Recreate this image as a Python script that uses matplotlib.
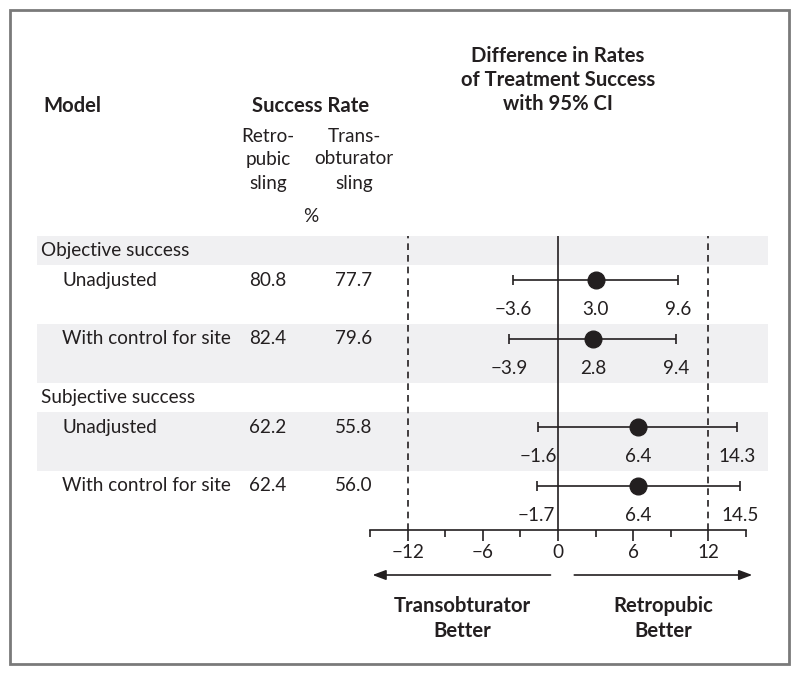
import matplotlib
matplotlib.use("Agg")
import matplotlib.pyplot as plt
from matplotlib.patches import Rectangle, FancyArrowPatch
from matplotlib.transforms import blended_transform_factory

plt.rcParams['font.family'] = ['Lato', 'DejaVu Sans']

# ---- data ----
groups = ["Objective success", "Subjective success"]
models = ["Unadjusted", "With control for site"]
retro = [80.8, 82.4, 62.2, 62.4]
trans = [77.7, 79.6, 55.8, 56.0]
diff = [3.0, 2.8, 6.4, 6.4]
ci_lo = [-3.6, -3.9, -1.6, -1.7]
ci_hi = [9.6, 9.4, 14.3, 14.5]
xticks = [-15, -12, -9, -6, -3, 0, 3, 6, 9, 12, 15]
xticklabels = ["", "\u221212", "", "\u22126", "", "0", "", "6", "", "12", ""]

TXT = 13.6
BOLD = 14.6
INK = "#231f20"

fig = plt.figure(figsize=(8, 6.75), dpi=100)
bg = fig.add_axes([0, 0, 1, 1])
bg.set_xlim(0, 800)
bg.set_ylim(675, 0)
bg.axis('off')

# forest axes: x in [-15,15], y in row units (0 top .. 10 bottom)
ax = fig.add_axes([370 / 800, (675 - 530) / 675, 376 / 800, 294 / 675])
ax.set_xlim(-15, 15)
ax.set_ylim(10, 0)
ax.patch.set_visible(False)
for s in ["top", "right", "left"]:
    ax.spines[s].set_visible(False)
ax.spines["bottom"].set_color(INK)
ax.spines["bottom"].set_linewidth(1.2)
ax.set_yticks([])
ax.set_xticks(xticks)
ax.set_xticklabels(xticklabels, fontsize=TXT, color=INK)
ax.tick_params(axis='x', direction='out', length=5, width=1.2, color=INK, pad=5)
for t, lab in zip(ax.xaxis.get_major_ticks(), xticklabels):
    if lab:
        t.tick1line.set_markersize(8)

mix = blended_transform_factory(bg.transData, ax.transData)

# build rows
rows = []  # (kind, label, index, top, height)
u = 0
k = 0
for g_i, g in enumerate(groups):
    rows.append(("group", g, None, u, 1))
    u += 1
    for m_i, m in enumerate(models):
        rows.append(("model", m, k, u, 2))
        u += 2
        k += 1

for r_i, (kind, label, idx, top, h) in enumerate(rows):
    if r_i % 2 == 0:
        bg.add_patch(Rectangle((37, top), 731, h, transform=mix,
                               facecolor="#f0f0f2", edgecolor="none", zorder=0))
    yc = top + 0.5
    if kind == "group":
        bg.text(41, yc, label, transform=mix, fontsize=TXT, color=INK,
                va='center', ha='left')
    else:
        bg.text(62, yc, label, transform=mix, fontsize=TXT, color=INK,
                va='center', ha='left')
        bg.text(268, yc, f"{retro[idx]:.1f}", transform=mix, fontsize=TXT,
                color=INK, va='center', ha='center')
        bg.text(354, yc, f"{trans[idx]:.1f}", transform=mix, fontsize=TXT,
                color=INK, va='center', ha='center')
        ax.errorbar(diff[idx], yc,
                    xerr=[[diff[idx] - ci_lo[idx]], [ci_hi[idx] - diff[idx]]],
                    fmt='o', color=INK, ms=12, elinewidth=1.2, capsize=3.5,
                    capthick=1.2, zorder=5)
        yl = top + 1.5
        for v in (ci_lo[idx], diff[idx], ci_hi[idx]):
            s = f"{v:.1f}".replace("-", "\u2212")
            ax.text(v, yl, s, fontsize=TXT, color=INK, ha='center',
                    va='center', clip_on=False)

# reference lines
ax.axvline(0, color=INK, lw=1.2, zorder=2)
for v in (-12, 12):
    ax.axvline(v, color=INK, lw=1.2, ls=(0, (4, 3)), zorder=2)

# headers
bg.text(43, 106, "Model", fontsize=BOLD, fontweight='bold', color=INK,
        ha='left', va='center')
bg.text(311, 106, "Success Rate", fontsize=BOLD, fontweight='bold', color=INK,
        ha='center', va='center')
for y, line in zip((56, 80, 104), ("Difference in Rates",
                                    "of Treatment Success", "with 95% CI")):
    bg.text(558, y, line, fontsize=BOLD, fontweight='bold', color=INK,
            ha='center', va='center')
for y, a, b in zip((136, 159, 183), ("Retro-", "pubic", "sling"),
                   ("Trans-", "obturator", "sling")):
    bg.text(268, y, a, fontsize=TXT, color=INK, ha='center', va='center')
    bg.text(354, y, b, fontsize=TXT, color=INK, ha='center', va='center')
bg.text(311, 217, "%", fontsize=TXT, color=INK, ha='center', va='center')

# direction arrows
xa = blended_transform_factory(ax.transData, bg.transData)
bg.add_patch(FancyArrowPatch((-0.6, 575), (-14.8, 575), transform=xa,
                             arrowstyle='-|>,head_length=8,head_width=3',
                             mutation_scale=1, color=INK, lw=1.2,
                             shrinkA=0, shrinkB=0))
bg.add_patch(FancyArrowPatch((1.3, 575), (15.5, 575), transform=xa,
                             arrowstyle='-|>,head_length=8,head_width=3',
                             mutation_scale=1, color=INK, lw=1.2,
                             shrinkA=0, shrinkB=0))
for y, t in zip((606, 631), ("Transobturator", "Better")):
    bg.text(462, y, t, fontsize=BOLD, fontweight='bold', color=INK,
            ha='center', va='center')
for y, t in zip((606, 631), ("Retropubic", "Better")):
    bg.text(663, y, t, fontsize=BOLD, fontweight='bold', color=INK,
            ha='center', va='center')

# border
bg.add_patch(Rectangle((9.5, 9.5), 779, 654, facecolor='none',
                       edgecolor='#7a7a7a', lw=2, zorder=10))

fig.savefig("out.png", dpi=100)
